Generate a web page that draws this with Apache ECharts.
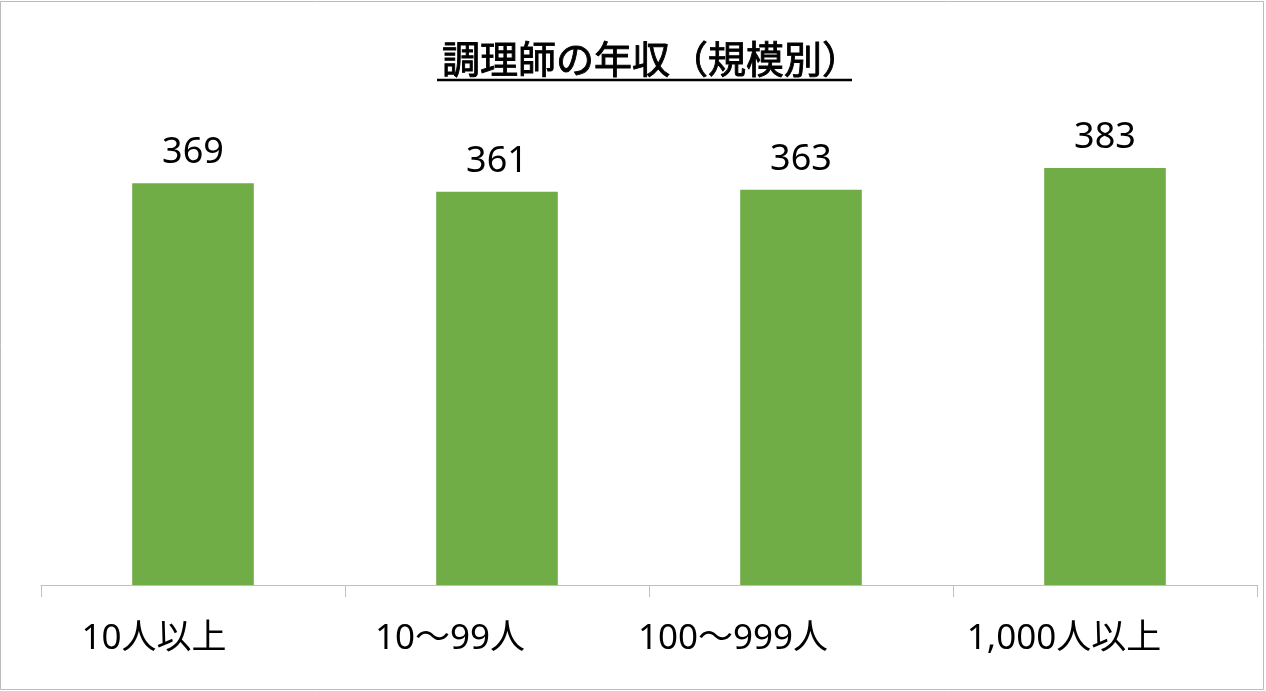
<!DOCTYPE html>
<html><head><meta charset="utf-8">
<script src="https://cdn.jsdelivr.net/npm/echarts@6/dist/echarts.min.js"></script>
<style>html,body{margin:0;padding:0;background:#fff}#c{width:1266px;height:691px}</style>
</head><body><div id="c"></div>
<script>
const titleText = '調理師の年収（規模別）';
const categories = ['10人以上', '10〜99人', '100〜999人', '1,000人以上'];
const values = [369, 361, 363, 383];
const labelShift = [78, 94, 136, 82];

const chart = echarts.init(document.getElementById('c'));
const rich = {};
categories.forEach((c, i) => { rich['c' + i] = { padding: [0, labelShift[i], 0, 0] }; });
chart.setOption({
  animation: false,
  backgroundColor: '#fff',
  title: {
    text: titleText, left: 437, top: 35,
    textStyle: { fontFamily: "'Noto Sans CJK JP'", fontSize: 38, fontWeight: 'normal', color: '#000', textBorderColor: '#000', textBorderWidth: 0.9 }
  },
  graphic: [
    { type: 'rect', shape: { x: 0.5, y: 1.5, width: 1263, height: 688 }, style: { fill: 'none', stroke: '#BBBBBB', lineWidth: 1 } },
    { type: 'line', shape: { x1: 437, y1: 80, x2: 852, y2: 80 }, style: { stroke: '#000', lineWidth: 2.5 } }
  ],
  grid: { left: 41, right: 9, top: 149.4, bottom: 106 },
  xAxis: {
    type: 'category', data: categories,
    axisLine: { lineStyle: { color: '#BFBFBF', width: 1 } },
    axisTick: { show: true, interval: 0, length: 12, lineStyle: { color: '#BFBFBF' } },
    axisLabel: {
      interval: 0, margin: 37, fontSize: 35, color: '#000', fontFamily: "'Noto Sans', 'Noto Sans CJK JP'",
      formatter: (v, i) => '{c' + i + '|' + v + '}', rich: rich
    }
  },
  yAxis: { type: 'value', min: 0, max: 400, show: false, splitLine: { show: false } },
  series: [{
    type: 'bar', data: values, barWidth: '40%',
    itemStyle: { color: '#70AD47' },
    label: { show: true, position: 'top', distance: 12, fontSize: 36, color: '#000', fontFamily: "'Noto Sans'" }
  }]
});
</script></body></html>
